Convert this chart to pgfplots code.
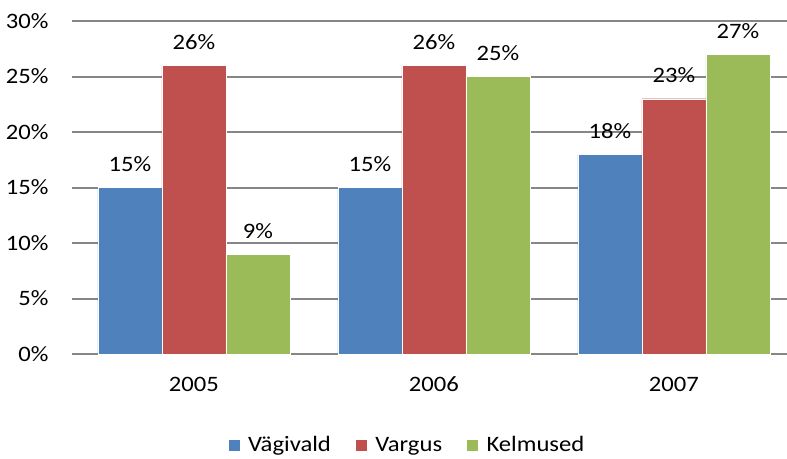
\documentclass[border=0pt]{standalone}
\usepackage{pgfplots}
\pgfplotsset{compat=1.18}
\usepackage{fontspec}
\setmainfont{Carlito}[FakeStretch=1.12]
\definecolor{cblue}{HTML}{4F81BD}
\definecolor{cred}{HTML}{C0504D}
\definecolor{cgreen}{HTML}{9BBB59}
\definecolor{cgrid}{HTML}{868686}
\newcommand\cf{\fontsize{22bp}{27bp}\selectfont}
\begin{document}
\begin{tikzpicture}
\begin{axis}[
  scale only axis,
  width=715bp, height=333bp,
  xmin=-0.508, xmax=2.471,
  ymin=0, ymax=30,
  ybar=0pt,
  bar width=64bp,
  xtick={0,1,2},
  xticklabels={2005,2006,2007},
  ytick={0,5,10,15,20,25,30},
  yticklabels={0\%,5\%,10\%,15\%,20\%,25\%,30\%},
  major tick length=0pt,
  axis line style={draw=none},
  ymajorgrids,
  major grid style={cgrid, line width=2bp},
  tick label style={font=\cf},
  yticklabel style={anchor=east, xshift=-20bp},
  xticklabel style={anchor=base, yshift=-37bp},
  nodes near coords={\pgfmathprintnumber[assume math mode=true]{\pgfplotspointmeta}\%},
  every node near coord/.append style={font=\cf, inner sep=0pt, anchor=base, yshift=16bp, text=black},
  legend style={draw=none, font=\cf, at={(rel axis cs:0.4685,0)}, anchor=center, yshift=-91bp, legend columns=-1,
    /tikz/every even column/.append style={column sep=22bp}},
  legend image code/.code={\fill[#1] (0bp,-6bp) rectangle (12bp,6bp); \path (18bp,0bp);},
  clip=false,
]
\addplot[fill=cblue, draw=white, line width=0.4bp] coordinates {(0,15) (1,15) (2,18)};
\addplot[fill=cred, draw=white, line width=0.4bp] coordinates {(0,26) (1,26) (2,23)};
\addplot[fill=cgreen, draw=white, line width=0.4bp] coordinates {(0,9) (1,25) (2,27)};
\legend{Vägivald,Vargus,Kelmused}
\coordinate (sw) at (rel axis cs:0,0);
\end{axis}
\pgfresetboundingbox
\path (sw) ++(-72bp,-105bp) rectangle ++(787bp,459bp);
\end{tikzpicture}
\end{document}
